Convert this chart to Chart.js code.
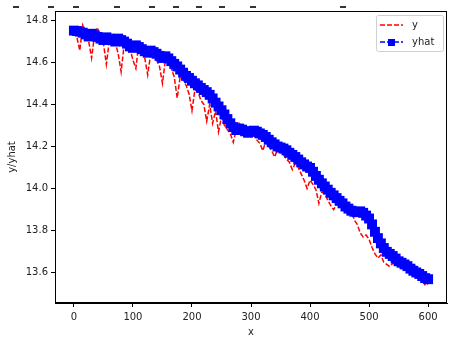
<!DOCTYPE html>
<html>
<head>
<meta charset="utf-8">
<script src="https://cdn.jsdelivr.net/npm/chart.js@4/dist/chart.umd.min.js"></script>
<style>
html, body { margin: 0; padding: 0; background: #fff; }
canvas { display: block; }
</style>
</head>
<body>
<canvas id="c" width="454" height="340"></canvas>
<script>
// sampled every 5 x-units, 0..600
const xStep = 5

const yValues = [
  14.745, 14.720, 14.655, 14.775, 14.735, 14.700, 14.620, 14.730, 14.765, 14.715,
  14.690, 14.590, 14.700, 14.720, 14.695, 14.640, 14.555, 14.680, 14.700, 14.665,
  14.610, 14.570, 14.690, 14.655, 14.620, 14.540, 14.640, 14.645, 14.610, 14.580,
  14.500, 14.610, 14.600, 14.570, 14.530, 14.430, 14.530, 14.520, 14.490, 14.450,
  14.370, 14.470, 14.460, 14.420, 14.400, 14.320, 14.400, 14.310, 14.370, 14.270,
  14.340, 14.300, 14.280, 14.260, 14.220, 14.280, 14.310, 14.295, 14.270, 14.255,
  14.265, 14.250, 14.230, 14.215, 14.180, 14.225, 14.200, 14.180, 14.150, 14.185,
  14.170, 14.160, 14.140, 14.125, 14.090, 14.120, 14.100, 14.070, 14.040, 14.000,
  14.040, 14.020, 13.995, 13.930, 13.985, 13.975, 13.945, 13.920, 13.900, 13.925,
  13.945, 13.920, 13.910, 13.895, 13.900, 13.850, 13.830, 13.790, 13.770, 13.780,
  13.760, 13.720, 13.690, 13.670, 13.685, 13.650, 13.640, 13.630, 13.645, 13.640,
  13.655, 13.645, 13.635, 13.620, 13.640, 13.635, 13.630, 13.610, 13.590, 13.540,
  13.550
]

const yhatValues = [
  14.750, 14.748, 14.745, 14.740, 14.732, 14.722, 14.735, 14.728, 14.720, 14.712,
  14.705, 14.718, 14.712, 14.705, 14.698, 14.712, 14.705, 14.698, 14.688, 14.675,
  14.668, 14.680, 14.672, 14.662, 14.652, 14.645, 14.655, 14.648, 14.640, 14.630,
  14.620, 14.628, 14.618, 14.605, 14.592, 14.580, 14.565, 14.550, 14.535, 14.525,
  14.512, 14.500, 14.490, 14.478, 14.468, 14.458, 14.445, 14.428, 14.408, 14.390,
  14.372, 14.352, 14.330, 14.310, 14.292, 14.278, 14.285, 14.280, 14.272, 14.265,
  14.272, 14.275, 14.270, 14.262, 14.255, 14.245, 14.232, 14.220, 14.210, 14.200,
  14.195, 14.190, 14.182, 14.170, 14.160, 14.150, 14.138, 14.125, 14.115, 14.105,
  14.098, 14.080, 14.060, 14.042, 14.025, 14.010, 13.995, 13.980, 13.968, 13.955,
  13.942, 13.930, 13.915, 13.905, 13.895, 13.890, 13.888, 13.892, 13.885, 13.872,
  13.858, 13.830, 13.795, 13.765, 13.740, 13.718, 13.700, 13.690, 13.680, 13.668,
  13.655, 13.648, 13.640, 13.632, 13.620, 13.610, 13.602, 13.595, 13.585, 13.575,
  13.570
]

const xTicks = [0, 100, 200, 300, 400, 500, 600]
const yTicks = [13.6, 13.8, 14.0, 14.2, 14.4, 14.6, 14.8]

// clipped bits of text along the top edge of the figure
const topMarks = [13, 48, 73, 114, 149, 173, 196, 219, 250, 340]

const font = { family: 'DejaVu Sans', size: 10 }
const ink = '#222'

const framePlugin = {
    id: 'frame',
    afterDatasetsDraw(chart) {
        const { ctx, chartArea: a } = chart
        ctx.save()
        ctx.strokeStyle = '#000'
        ctx.lineWidth = 1
        ctx.strokeRect(a.left + 0.5, a.top + 0.5, a.right - a.left - 1, a.bottom - a.top - 1)
        ctx.restore()
    },
    afterDraw(chart) {
        const { ctx } = chart
        ctx.save()
        ctx.strokeStyle = '#333'
        ctx.lineWidth = 2
        for (const x of topMarks) {
            ctx.beginPath()
            ctx.moveTo(x, 7)
            ctx.lineTo(x + 6, 7)
            ctx.stroke()
        }
        ctx.restore()
    }
}

const legendPlugin = {
    id: 'mplLegend',
    afterDraw(chart) {
        const { ctx, chartArea: a } = chart
        const w = 67, h = 36
        const left = a.right - w - 4, top = a.top + 4
        ctx.save()
        ctx.fillStyle = 'rgba(255,255,255,0.8)'
        ctx.strokeStyle = '#d0d0d0'
        ctx.lineWidth = 1
        ctx.beginPath()
        ctx.roundRect(left + 0.5, top + 0.5, w, h, 2)
        ctx.fill()
        ctx.stroke()

        const sets = chart.data.datasets
        sets.forEach((ds, i) => {
            const y = top + 10 + i * 17
            ctx.strokeStyle = ds.borderColor
            ctx.lineWidth = 1.5
            ctx.setLineDash(ds.borderDash || [])
            ctx.beginPath()
            ctx.moveTo(left + 4, y)
            ctx.lineTo(left + 27, y)
            ctx.stroke()
            ctx.setLineDash([])
            if (ds.pointRadius > 0) {
                ctx.fillStyle = ds.pointBackgroundColor
                ctx.fillRect(left + 12, y - 3, 7, 7)
            }
            ctx.fillStyle = ink
            ctx.font = '10px "DejaVu Sans"'
            ctx.textBaseline = 'middle'
            ctx.fillText(ds.label, left + 36, y)
        })
        ctx.restore()
    }
}

const canvas = document.getElementById('c')

const chart = new Chart(canvas, {
    type: 'line',
    data: {
        datasets: [
            {
                label: 'y',
                data: yValues.map((v, i) => ({ x: i * xStep, y: v })),
                borderColor: '#ff0000',
                borderWidth: 1.5,
                borderDash: [5, 2],
                pointRadius: 0,
                tension: 0,
                order: 1
            },
            {
                label: 'yhat',
                data: yhatValues.map((v, i) => ({ x: i * xStep, y: v })),
                borderColor: '#0000ff',
                borderWidth: 1.5,
                borderDash: [5, 2],
                pointStyle: 'rect',
                pointRadius: 7,
                pointBackgroundColor: '#0000ff',
                pointBorderColor: '#0000ff',
                pointBorderWidth: 0,
                tension: 0,
                order: 0
            }
        ]
    },
    options: {
        responsive: false,
        animation: false,
        devicePixelRatio: 1,
        layout: { padding: { left: 0, right: 7, top: 11, bottom: 0 } },
        plugins: {
            legend: { display: false },
            tooltip: { enabled: false }
        },
        scales: {
            x: {
                type: 'linear',
                min: -32,
                max: 632,
                afterBuildTicks: s => { s.ticks = xTicks.map(v => ({ value: v })) },
                afterFit: s => { s.height = 37 },
                grid: { drawOnChartArea: false, drawTicks: true, tickLength: 4, color: '#000' },
                border: { display: true, color: '#000', width: 1 },
                ticks: { font, color: ink, padding: 4, maxRotation: 0, callback: v => v },
                title: { display: true, text: 'x', font, color: ink, padding: { top: 0, bottom: 2 } }
            },
            y: {
                type: 'linear',
                min: 13.457,
                max: 14.843,
                afterBuildTicks: s => { s.ticks = yTicks.map(v => ({ value: v })) },
                afterFit: s => { s.width = 55 },
                grid: { drawOnChartArea: false, drawTicks: true, tickLength: 4, color: '#000' },
                border: { display: true, color: '#000', width: 1 },
                ticks: { font, color: ink, padding: 3, callback: v => v.toFixed(1) },
                title: { display: true, text: 'y/yhat', font, color: ink, padding: { top: 6, bottom: 0 } }
            }
        }
    },
    plugins: [framePlugin, legendPlugin]
})
</script>
</body>
</html>
